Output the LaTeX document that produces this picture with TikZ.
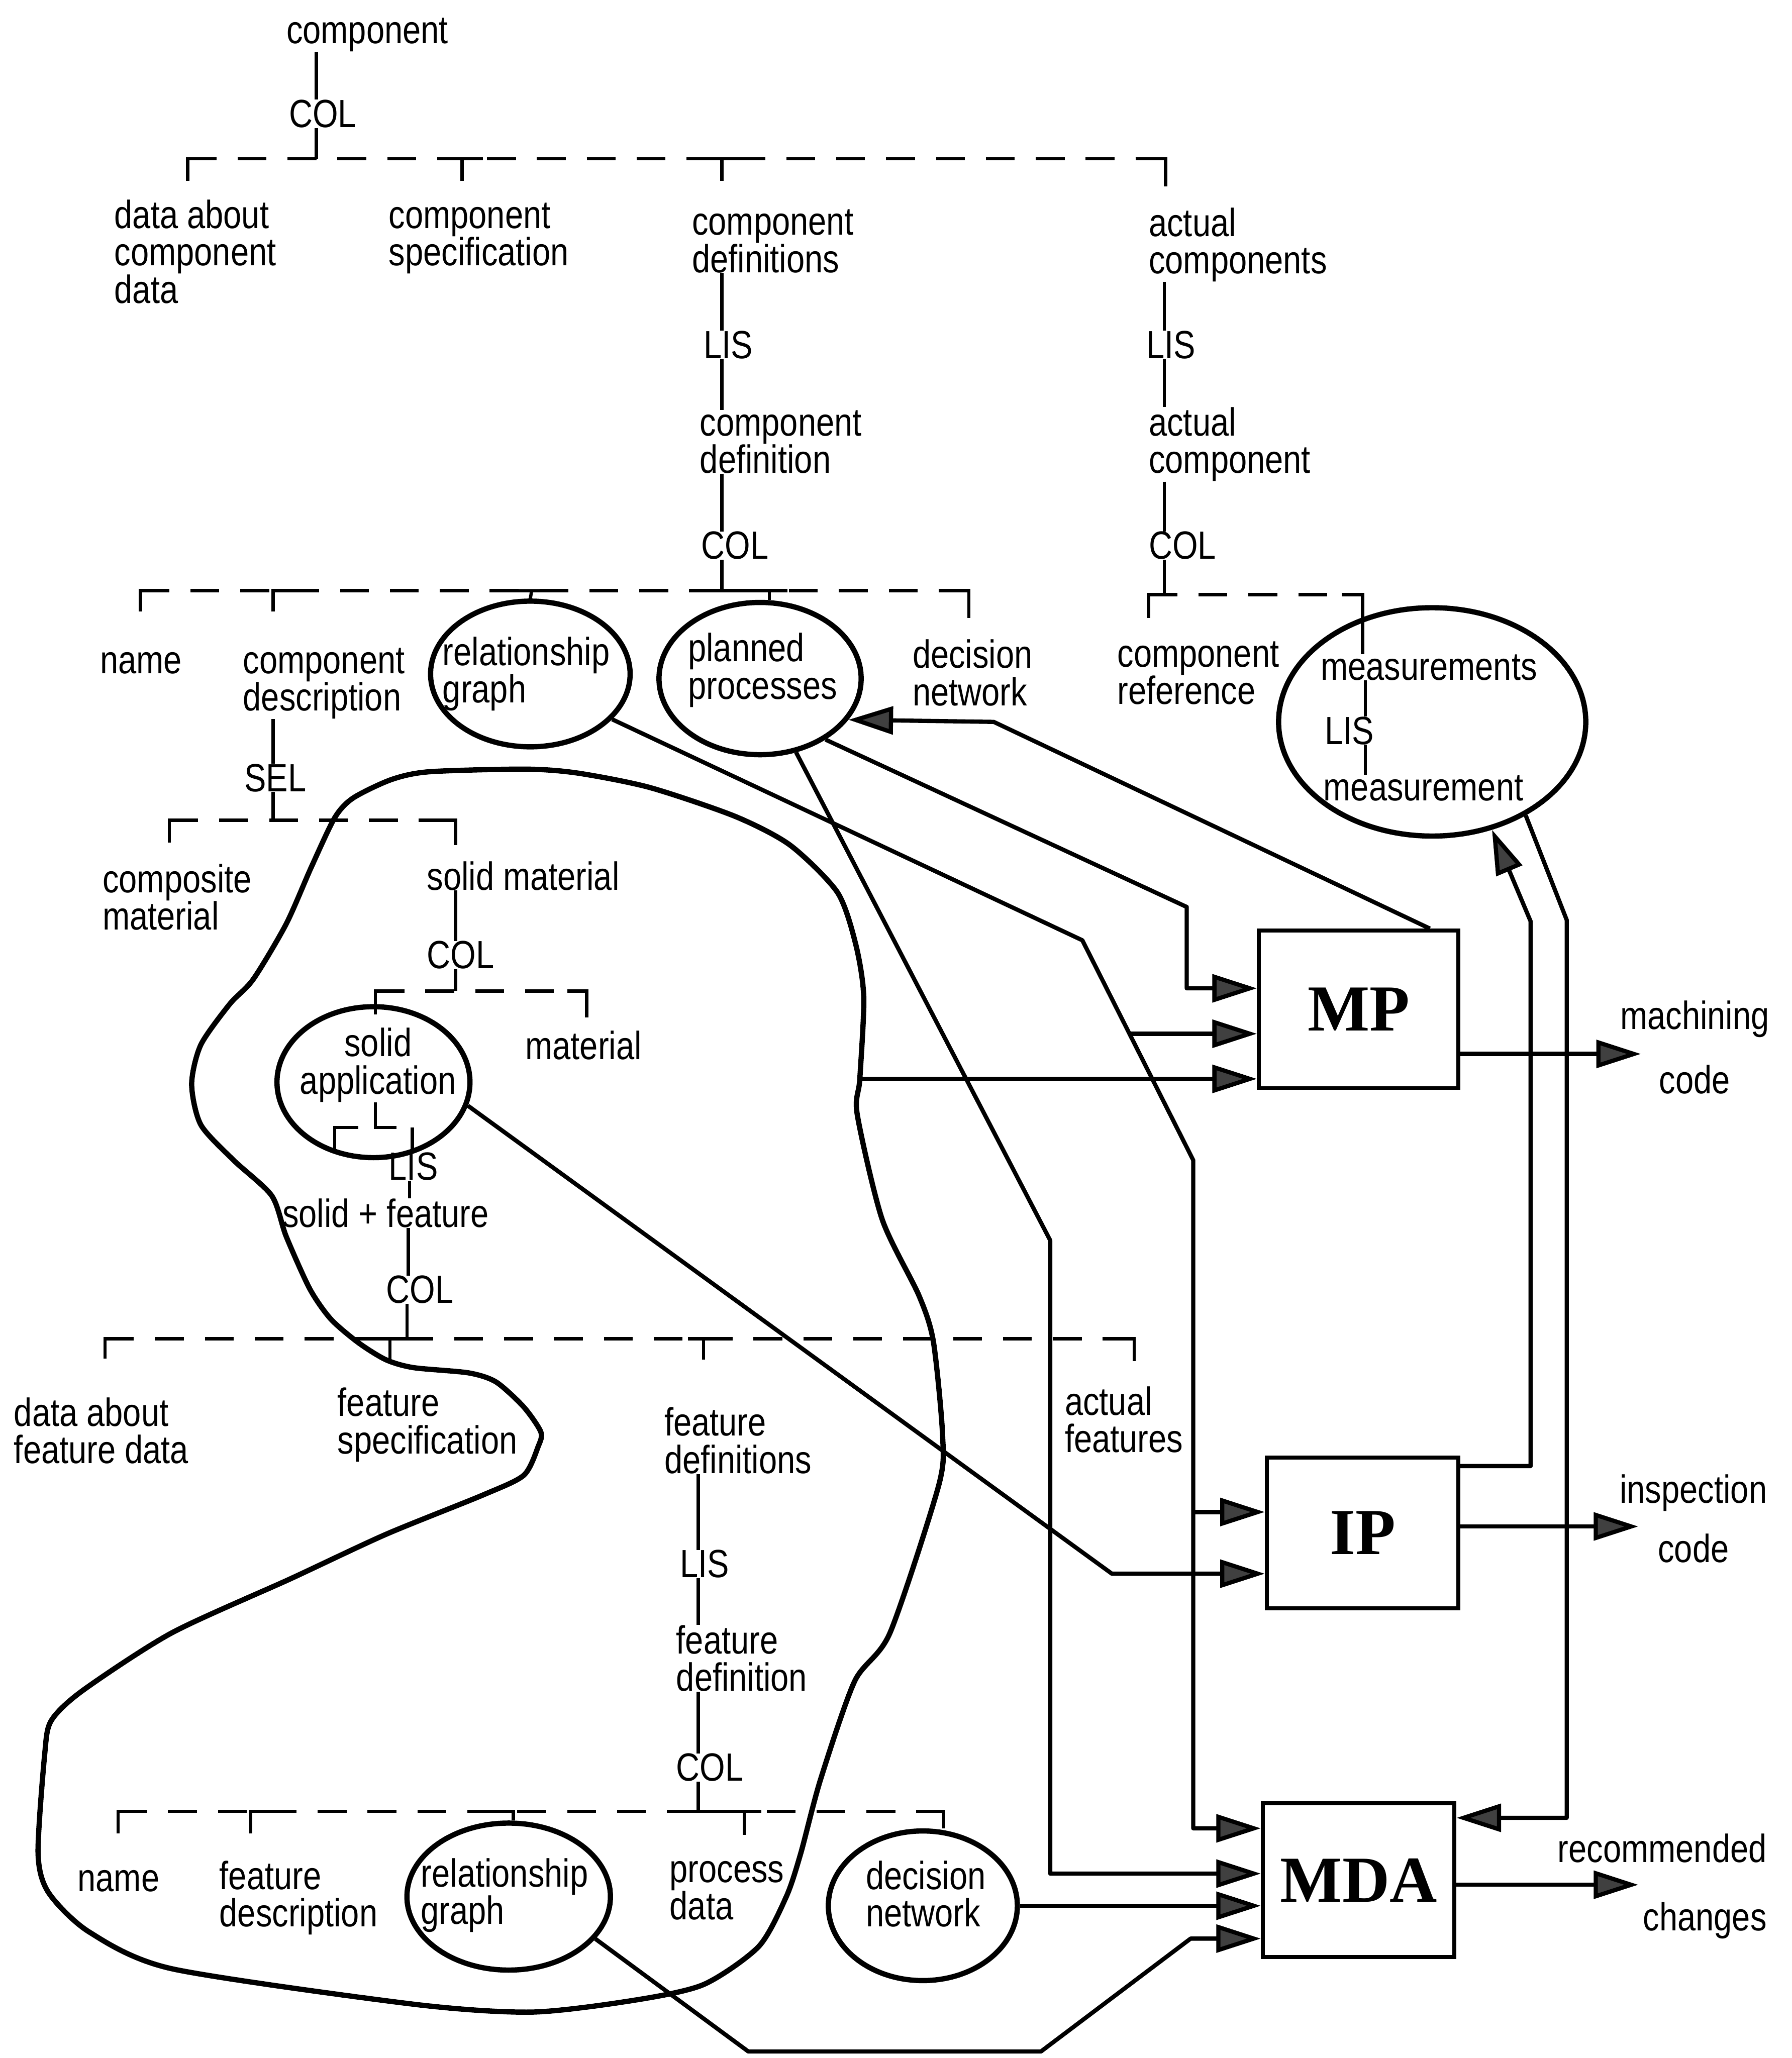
\documentclass[tikz,border=0pt]{standalone}
\usepackage{fontspec}
\setmainfont{Liberation Sans}[FakeStretch=0.83]
\newfontfamily\boxfont{Liberation Serif}
\usetikzlibrary{shapes.geometric,arrows.meta,positioning,calc}

\tikzset{
  lbl/.style={anchor=base west, inner sep=0pt, align=left},
  op/.style={anchor=base west, inner sep=0pt},
  tick/.style={line width=2.5pt},
  bar/.style={line width=2.5pt, dash pattern=on 22pt off 16pt},
  oval/.style={ellipse, draw, line width=4pt, inner sep=0pt},
  proc/.style={draw, line width=3pt, font=\boxfont\bfseries\fontsize{50}{50}\selectfont},
  flow/.style={line width=3.2pt, line join=round, -{Triangle[length=34pt,width=21pt,fill=black!75]}},
  outlbl/.style={inner sep=0pt, anchor=base, align=center}
}

\begin{document}
\begin{tikzpicture}[x=1pt, y=-1pt, font=\fontsize{30}{28.5}\selectfont]
\useasboundingbox (0,0) rectangle (1365,1568);
\fill[white] (0,0) rectangle (1365,1568);

% component tree
\node[lbl] (comp) at (218,33) {component};
\node[op] (colA) at (220,97) {COL};
\draw[tick] (comp.south -| 241,0) -- (colA.north -| 241,0);
\draw[tick] (colA.south -| 241,0) -- (241,121);

\draw[bar] (143,121) -- (888,121);
\draw[tick] (143,138) -- (143,121) -- (158,121);
\draw[tick] (352,138) -- (352,121) -- (368,121);
\draw[tick] (538,121) -- (562,121) (550,121) -- (550,138);
\draw[tick] (872,121) -- (888,121) -- (888,142);

\node[lbl] (dacd) at (87,231) {data about\\component\\data};
\node[lbl] (cspec) at (296,202.5) {component\\specification};
\node[lbl] (cdefs) at (527,207.5) {component\\definitions};
\node[lbl] (acomps) at (875,208.5) {actual\\components};

\node[op] (lisA) at (536,273) {LIS};
\node[lbl] (cdef) at (533,360.5) {component\\definition};
\node[op] (colB) at (534,426) {COL};
\draw[tick] (cdefs.south -| 550,0) -- (lisA.north -| 550,0);
\draw[tick] (lisA.south -| 550,0) -- (cdef.north -| 550,0);
\draw[tick] (cdef.south -| 550,0) -- (colB.north -| 550,0);
\draw[tick] (colB.south -| 550,0) -- (550,450);

\node[op] (lisB) at (873,273) {LIS};
\node[lbl] (acomp) at (875,360.5) {actual\\component};
\node[op] (colC) at (875,426) {COL};
\draw[tick] (acomps.south -| 887,0) -- (lisB.north -| 887,0);
\draw[tick] (lisB.south -| 887,0) -- (acomp.north -| 887,0);
\draw[tick] (acomp.south -| 887,0) -- (colC.north -| 887,0);
\draw[tick] (colC.south -| 887,0) -- (887,453);

% component definition
\draw[bar] (107,450) -- (738,450);
\draw[tick] (107,466) -- (107,450) -- (122,450);
\draw[tick] (208,466) -- (208,450) -- (222,450);
\draw[tick] (540,450) -- (600,450);
\draw[tick] (722,450) -- (738,450) -- (738,471);

\node[lbl] (name1) at (76,513) {name};
\node[lbl] (cdesc) at (185,541.5) {component\\description};
\node[oval, minimum width=152pt, minimum height=111pt] (relc) at (404,513.5) {};
\node[lbl] (relct) at (337,535.5) {relationship\\graph};
\node[oval, minimum width=154pt, minimum height=116pt] (plan) at (579,517) {};
\node[lbl] (planct) at (524,532.5) {planned\\processes};
\node[lbl] (decn) at (695,537.5) {decision\\network};
\draw[tick] (392,450) -- (412,450) (405,450) -- (relc.north);
\draw[tick] (586,450) -- (plan.north -| 586,0);

% actual component
\draw[bar] (875,453) -- (1038,453);
\draw[tick] (875,471) -- (875,453) -- (890,453);
\node[lbl] (cref) at (851,536.5) {component\\reference};
\node[oval, minimum width=234pt, minimum height=174pt] (meas) at (1091,550) {};
\node[lbl] (msms) at (1006,518) {measurements};
\node[op] (lisM) at (1009,567) {LIS};
\node[lbl] (msm) at (1008,610) {measurement};
\draw[tick] (1022,453) -- (1038,453) -- (msms.north -| 1038,0);
\draw[tick] (msms.south -| 1040,0) -- (lisM.north -| 1040,0);
\draw[tick] (lisM.south -| 1040,0) -- (msm.north -| 1040,0);

% component description
\node[op] (sel) at (186,603) {SEL};
\draw[tick] (cdesc.south -| 208,0) -- (sel.north -| 208,0);
\draw[tick] (sel.south -| 208,0) -- (208,625);
\draw[bar] (129,625) -- (347,625);
\draw[tick] (129,642) -- (129,625) -- (144,625);
\draw[tick] (332,625) -- (347,625) -- (347,644);

\node[lbl] (compm) at (78,708.5) {composite\\material};
\node[lbl] (solidm) at (325,678) {solid material};
\node[op] (colD) at (325,738) {COL};
\draw[tick] (solidm.south -| 347,0) -- (colD.north -| 347,0);
\draw[tick] (colD.south -| 347,0) -- (347,755);
\draw[bar] (286,755) -- (447,755);
\draw[tick] (286,773) -- (286,755) -- (300,755);
\draw[tick] (432,755) -- (447,755) -- (447,775);

\node[oval, minimum width=147pt, minimum height=115pt] (solapp) at (284.5,824.5) {};
\node[lbl, anchor=base, align=center] (solappt) at (288,833.5) {solid\\application};
\node[lbl] (mat) at (400,807) {material};

\draw[tick] (255,876) -- (255,859) -- (273,859);
\draw[tick] (solappt.south -| 286,0) -- (286,859) -- (302,859);
\node[op] (lisC) at (296,899) {LIS};
\draw[tick] (314,859) -- (lisC.north -| 314,0);
\node[lbl] (solfeat) at (215,935) {solid + feature};
\draw[tick] (lisC.south -| 312,0) -- (solfeat.north -| 312,0);
\node[op] (colE) at (294,993) {COL};
\draw[tick] (solfeat.south -| 311,0) -- (colE.north -| 311,0);
\draw[tick] (colE.south -| 310,0) -- (310,1020);

% feature tree
\draw[bar] (80,1020) -- (864,1020);
\draw[tick] (80,1035) -- (80,1020) -- (95,1020);
\draw[tick] (285,1020) -- (320,1020) (297,1020) -- (297,1036);
\draw[tick] (524,1020) -- (548,1020) (536,1020) -- (536,1036);
\draw[tick] (849,1020) -- (864,1020) -- (864,1037);

\node[lbl] (dafd) at (10.5,1115) {data about\\feature data};
\node[lbl] (fspec) at (257,1107.5) {feature\\specification};
\node[lbl] (fdefs) at (506,1122.5) {feature\\definitions};
\node[lbl] (afeat) at (811,1106.5) {actual\\features};

\node[op] (lisD) at (518,1202) {LIS};
\node[lbl] (fdef) at (515,1288.5) {feature\\definition};
\node[op] (colF) at (515,1357) {COL};
\draw[tick] (fdefs.south -| 532,0) -- (lisD.north -| 532,0);
\draw[tick] (lisD.south -| 532,0) -- (fdef.north -| 532,0);
\draw[tick] (fdef.south -| 532,0) -- (colF.north -| 532,0);
\draw[tick] (colF.south -| 532,0) -- (532,1380);

\draw[bar] (90,1380) -- (719,1380);
\draw[tick] (90,1397) -- (90,1380) -- (105,1380);
\draw[tick] (191,1397) -- (191,1380) -- (206,1380);
\draw[tick] (525,1380) -- (580,1380) (567,1380) -- (567,1398);

\node[lbl] (name2) at (59,1441) {name};
\node[lbl] (fdesc) at (167,1468) {feature\\description};
\node[oval, minimum width=155pt, minimum height=112pt] (relf) at (387.5,1445) {};
\node[lbl] (relft) at (320.5,1466) {relationship\\graph};
\node[lbl] (pdata) at (510,1462.5) {process\\data};
\node[oval, minimum width=144pt, minimum height=114pt] (decf) at (703,1452) {};
\node[lbl] (decft) at (659.4,1468) {decision\\network};
\draw[tick] (372,1380) -- (391,1380) -- (relf.north -| 391,0);
\draw[tick] (703,1380) -- (719,1380) -- (decf.north -| 719,0);

% solid + feature group
\draw[line width=4pt] plot[smooth cycle, tension=0.45] coordinates {
  (255,623) (269,608) (298,594) (327,588) (400,586) (440,589) (495,600)
  (560,622) (602,644) (638,680) (652,720) (658,760) (655,822) (653,849)
  (672,929) (700,987) (711,1022) (718,1093) (715,1132) (678,1244) (651,1281)
  (625,1356) (610,1412) (599,1445) (578,1483) (536,1512) (483,1524) (405,1533)
  (315,1527) (131,1500) (68,1472) (37,1442) (29,1412) (34,1337) (39,1311)
  (63,1288) (131,1244) (221,1203) (294,1169) (368,1139) (399,1124) (410,1102)
  (412,1091) (399,1072) (378,1053) (357,1046) (315,1042) (294,1036) (273,1023)
  (252,1005) (236,982) (218,942) (207,911) (178,884) (153,857) (146,826)
  (153,796) (175,765) (193,746) (218,704) (237,661)};
\coordinate (blobr) at (655,822);

% planners
\node[proc, minimum width=152pt, minimum height=120pt] (mp) at (1035,769) {MP};
\node[proc, minimum width=146pt, minimum height=115pt] (ip) at (1038,1168) {IP};
\node[proc, minimum width=146pt, minimum height=117pt] (mda) at (1035,1432.5) {MDA};

\coordinate (brmp) at (860.4,787.6);
\coordinate (brip) at (909,1152);

\draw[flow] ($(mp.north west)!0.85!(mp.north east)$) -- (757,550) -- (plan.-25);
\draw[flow] (plan.-43) -- (904,691) -- (904,753) -- (mp.west |- 0,753);
\draw[flow] (relc.-29) -- (824.5,716.4) -- (909,884) -- (909,1393) -- (mda.west |- 0,1393);
\draw[flow] (brmp) -- (mp.west |- brmp);
\draw[flow] (brip) -- (ip.west |- brip);
\draw[flow] (plan.-64) -- (800,945) -- (800,1427.5) -- (mda.west |- 0,1427.5);
\draw[flow] (blobr) -- (mp.west |- blobr);
\draw[flow] (solapp.-14) -- (847,1199) -- (ip.west |- 0,1199);
\draw[flow] (decf.east) -- (mda.west |- decf.east);
\draw[flow] (relf.-26) -- (570,1563) -- (793,1563) -- (907,1477) -- (mda.west |- 0,1477);
\draw[flow] (ip.east |- 0,1117) -- (1166,1117) -- (1166,702) -- (meas.-61);
\draw[flow] (meas.-45) -- (1193.5,701) -- (1193.5,1385) -- (mda.east |- 0,1385);

% outputs
\coordinate (mpout) at (1250,803);
\coordinate (ipout) at (1248,1163);
\coordinate (mdaout) at (1248,1436);
\draw[flow] (mp.east |- mpout) -- (mpout);
\draw[flow] (ip.east |- ipout) -- (ipout);
\draw[flow] (mda.east |- mdaout) -- (mdaout);
\node[outlbl, font=\fontsize{30}{49}\selectfont] (mcode) at (1291,833) {machining\\code};
\node[outlbl, font=\fontsize{30}{45.5}\selectfont] (icode) at (1290,1190.5) {inspection\\code};
\node[outlbl, anchor=base east, align=right, font=\fontsize{30}{52}\selectfont] (rchg) at (1346,1471) {recommended\\changes};
\end{tikzpicture}
\end{document}
